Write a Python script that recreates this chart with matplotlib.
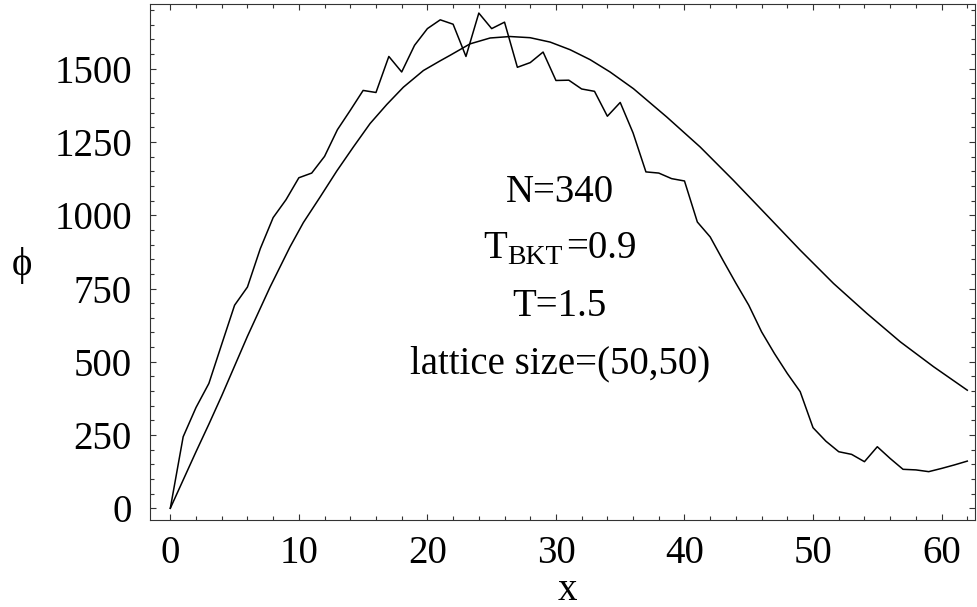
import matplotlib
matplotlib.use("Agg")
import matplotlib.pyplot as plt
from matplotlib.ticker import MultipleLocator

plt.rcParams['font.family'] = ['Liberation Serif', 'DejaVu Serif']

# Simulated order parameter profile (one value per lattice column)
x_sim = list(range(0, 63))
phi_sim = [0, 244, 344, 426, 560, 693, 755, 886, 992, 1053,
           1128, 1144, 1201, 1292, 1358, 1426, 1419, 1542, 1489, 1580,
           1637, 1667, 1652, 1542, 1690, 1637, 1659, 1505, 1521, 1557,
           1460, 1461, 1431, 1423, 1338, 1385, 1281, 1148, 1144, 1125,
           1117, 977, 926, 846, 768, 693, 602, 528, 460, 398,
           275, 229, 193, 184, 159, 210, 170, 133, 131, 125,
           136, 148, 161]

# Theoretical profile
x_th = [0, 2, 3, 4, 6, 7.76, 9.31, 10.35, 11.65, 12.95, 14.24, 15.54,
        16.84, 18.13, 19.69, 20.99, 21.77, 23.32, 24.88, 26.43, 27.99,
        29.55, 31.1, 32.66, 34.21, 36.03, 38.63, 41.22, 43.81, 46.41,
        49.0, 51.6, 54.19, 56.79, 59.38, 62.0]
phi_th = [0, 193, 287, 384, 587, 755, 892, 975, 1062, 1151, 1233, 1313,
          1378, 1437, 1494, 1527, 1546, 1585, 1605, 1610, 1606,
          1591, 1565, 1531, 1489, 1432, 1335, 1233, 1119, 1000,
          881, 767, 665, 568, 483, 403]

fig = plt.figure(figsize=(9.78, 6.07), dpi=100)
ax = fig.add_axes([150 / 978, 87 / 607, 825 / 978, 516 / 607])

ax.plot(x_sim, phi_sim, color='black', lw=1.1)
ax.plot(x_th, phi_th, color='black', lw=1.1)

# Parameter block
FS = 28
ax.text(30.3, 1045, "N=340", ha='center', va='baseline', fontsize=FS)
t_T = ax.text(24.33, 855, "T", ha='left', va='baseline', fontsize=FS)
t_sub = ax.annotate("BKT", xy=(1, 0), xycoords=(t_T, t_T),
                    xytext=(0.5, -2.3), textcoords='offset points',
                    ha='left', va='bottom', fontsize=20)
ax.annotate("=0.9", xy=(1, 0), xycoords=(t_sub, t_T),
            xytext=(2, 0), textcoords='offset points',
            ha='left', va='bottom', fontsize=FS)
ax.text(30.3, 655, "T=1.5", ha='center', va='baseline', fontsize=FS)
ax.text(30.3, 460, "lattice size=(50,50)", ha='center', va='baseline', fontsize=FS)

ax.set_xlim(-1.58, 62.6)
ax.set_ylim(-40, 1721)

ax.xaxis.set_major_locator(MultipleLocator(10))
ax.xaxis.set_minor_locator(MultipleLocator(2))
ax.yaxis.set_major_locator(MultipleLocator(250))
ax.yaxis.set_minor_locator(MultipleLocator(50))

ax.tick_params(which='both', direction='in', top=True, right=True,
               labelsize=FS, width=0.8, color='#333333')
ax.tick_params(which='major', length=4.5)
ax.tick_params(which='minor', length=3)
ax.tick_params(axis='x', which='major', pad=11)
ax.tick_params(axis='y', which='major', pad=13)

for sp in ax.spines.values():
    sp.set_linewidth(0.8)
    sp.set_color('#333333')

fig.text(567 / 978, 1 - 590 / 607, "x", ha='center', va='center', fontsize=FS)
fig.text(22 / 978, 1 - 265 / 607, "\u03d5", ha='center', va='center', fontsize=FS)

fig.savefig("out.png", dpi=100)
